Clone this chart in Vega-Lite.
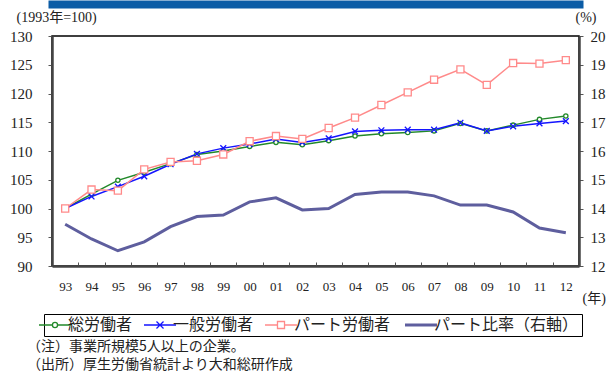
{
  "$schema": "https://vega.github.io/schema/vega-lite/v6.json",
  "autosize": {"type": "none"},
  "padding": {"left": 52, "top": 36, "right": 28, "bottom": 105},
  "width": 527,
  "height": 230,
  "config": {
    "view": {"stroke": "#000", "strokeWidth": 1.5},
    "axis": {"grid": false, "domainColor": "#444", "domainWidth": 2.5, "tickColor": "#555", "tickWidth": 1, "labelColor": "#222", "titleColor": "#222", "titleFontWeight": "normal"}
  },
  "title": {
    "text": ["（注）事業所規模5人以上の企業。", "（出所）厚生労働省統計より大和総研作成"],
    "orient": "bottom",
    "anchor": "start",
    "frame": "group",
    "dx": -25,
    "offset": 3,
    "font": "Noto Sans CJK JP",
    "fontSize": 14,
    "fontWeight": "normal",
    "lineHeight": 18,
    "color": "#222"
  },
  "data": {"values": [
    {"year": "93", "series": "総労働者", "value": 100},
    {"year": "94", "series": "総労働者", "value": 102.5},
    {"year": "95", "series": "総労働者", "value": 104.9},
    {"year": "96", "series": "総労働者", "value": 106.3},
    {"year": "97", "series": "総労働者", "value": 107.8},
    {"year": "98", "series": "総労働者", "value": 109.4},
    {"year": "99", "series": "総労働者", "value": 110.0},
    {"year": "00", "series": "総労働者", "value": 110.8},
    {"year": "01", "series": "総労働者", "value": 111.5},
    {"year": "02", "series": "総労働者", "value": 111.1},
    {"year": "03", "series": "総労働者", "value": 111.8},
    {"year": "04", "series": "総労働者", "value": 112.6},
    {"year": "05", "series": "総労働者", "value": 113.0},
    {"year": "06", "series": "総労働者", "value": 113.2},
    {"year": "07", "series": "総労働者", "value": 113.5},
    {"year": "08", "series": "総労働者", "value": 114.8},
    {"year": "09", "series": "総労働者", "value": 113.5},
    {"year": "10", "series": "総労働者", "value": 114.5},
    {"year": "11", "series": "総労働者", "value": 115.5},
    {"year": "12", "series": "総労働者", "value": 116.1},
    {"year": "93", "series": "一般労働者", "value": 100},
    {"year": "94", "series": "一般労働者", "value": 102.1},
    {"year": "95", "series": "一般労働者", "value": 103.8},
    {"year": "96", "series": "一般労働者", "value": 105.6},
    {"year": "97", "series": "一般労働者", "value": 107.7},
    {"year": "98", "series": "一般労働者", "value": 109.5},
    {"year": "99", "series": "一般労働者", "value": 110.5},
    {"year": "00", "series": "一般労働者", "value": 111.2},
    {"year": "01", "series": "一般労働者", "value": 112.1},
    {"year": "02", "series": "一般労働者", "value": 111.5},
    {"year": "03", "series": "一般労働者", "value": 112.2},
    {"year": "04", "series": "一般労働者", "value": 113.4},
    {"year": "05", "series": "一般労働者", "value": 113.6},
    {"year": "06", "series": "一般労働者", "value": 113.7},
    {"year": "07", "series": "一般労働者", "value": 113.7},
    {"year": "08", "series": "一般労働者", "value": 114.9},
    {"year": "09", "series": "一般労働者", "value": 113.5},
    {"year": "10", "series": "一般労働者", "value": 114.3},
    {"year": "11", "series": "一般労働者", "value": 114.8},
    {"year": "12", "series": "一般労働者", "value": 115.2},
    {"year": "93", "series": "パート労働者", "value": 100},
    {"year": "94", "series": "パート労働者", "value": 103.3},
    {"year": "95", "series": "パート労働者", "value": 103.1},
    {"year": "96", "series": "パート労働者", "value": 106.8},
    {"year": "97", "series": "パート労働者", "value": 108.1},
    {"year": "98", "series": "パート労働者", "value": 108.3},
    {"year": "99", "series": "パート労働者", "value": 109.4},
    {"year": "00", "series": "パート労働者", "value": 111.7},
    {"year": "01", "series": "パート労働者", "value": 112.6},
    {"year": "02", "series": "パート労働者", "value": 112.1},
    {"year": "03", "series": "パート労働者", "value": 114.0},
    {"year": "04", "series": "パート労働者", "value": 115.8},
    {"year": "05", "series": "パート労働者", "value": 118.0},
    {"year": "06", "series": "パート労働者", "value": 120.2},
    {"year": "07", "series": "パート労働者", "value": 122.4},
    {"year": "08", "series": "パート労働者", "value": 124.2},
    {"year": "09", "series": "パート労働者", "value": 121.5},
    {"year": "10", "series": "パート労働者", "value": 125.3},
    {"year": "11", "series": "パート労働者", "value": 125.2},
    {"year": "12", "series": "パート労働者", "value": 125.8},
    {"year": "93", "series": "パート比率（右軸）", "value": 13.45},
    {"year": "94", "series": "パート比率（右軸）", "value": 12.94},
    {"year": "95", "series": "パート比率（右軸）", "value": 12.53},
    {"year": "96", "series": "パート比率（右軸）", "value": 12.84},
    {"year": "97", "series": "パート比率（右軸）", "value": 13.37},
    {"year": "98", "series": "パート比率（右軸）", "value": 13.72},
    {"year": "99", "series": "パート比率（右軸）", "value": 13.77},
    {"year": "00", "series": "パート比率（右軸）", "value": 14.23},
    {"year": "01", "series": "パート比率（右軸）", "value": 14.37},
    {"year": "02", "series": "パート比率（右軸）", "value": 13.95},
    {"year": "03", "series": "パート比率（右軸）", "value": 14.0},
    {"year": "04", "series": "パート比率（右軸）", "value": 14.49},
    {"year": "05", "series": "パート比率（右軸）", "value": 14.57},
    {"year": "06", "series": "パート比率（右軸）", "value": 14.57},
    {"year": "07", "series": "パート比率（右軸）", "value": 14.44},
    {"year": "08", "series": "パート比率（右軸）", "value": 14.12},
    {"year": "09", "series": "パート比率（右軸）", "value": 14.12},
    {"year": "10", "series": "パート比率（右軸）", "value": 13.88},
    {"year": "11", "series": "パート比率（右軸）", "value": 13.32},
    {"year": "12", "series": "パート比率（右軸）", "value": 13.16}
  ]},
  "layer": [
    {
      "transform": [{"filter": "datum.series !== 'パート比率（右軸）'"}],
      "encoding": {
        "x": {
          "field": "year",
          "type": "ordinal",
          "sort": null,
          "scale": {"type": "band", "paddingInner": 0, "paddingOuter": 0},
          "axis": {
            "orient": "bottom",
            "labelAngle": 0,
            "labelFont": "Liberation Serif",
            "labelFontSize": 13,
            "tickBand": "extent",
            "tickSize": -4,
            "labelPadding": 18,
            "title": "(年)",
            "titleFont": "Liberation Serif, Noto Sans CJK JP",
            "titleFontSize": 14,
            "titleAngle": 0,
            "titleAlign": "left",
            "titleBaseline": "middle",
            "titleX": 530,
            "titleY": 32
          }
        },
        "y": {
          "field": "value",
          "type": "quantitative",
          "scale": {"domain": [90, 130], "zero": false, "nice": false},
          "axis": {
            "orient": "left",
            "values": [90, 95, 100, 105, 110, 115, 120, 125, 130],
            "labelFont": "Liberation Serif",
            "labelFontSize": 15,
            "tickSize": 4,
            "labelPadding": 16,
            "title": "(1993年=100)",
            "titleFont": "Liberation Serif, Noto Sans CJK JP",
            "titleFontSize": 14,
            "titleAngle": 0,
            "titleAlign": "left",
            "titleBaseline": "middle",
            "titleX": -36,
            "titleY": -19
          }
        }
      },
      "layer": [
        {
          "mark": {"type": "line", "strokeWidth": 1.5},
          "encoding": {
            "color": {
              "field": "series",
              "type": "nominal",
              "scale": {
                "domain": ["総労働者", "一般労働者", "パート労働者", "パート比率（右軸）"],
                "range": ["#22892a", "#1414ff", "#ff8a8a", "#5e5e9e"]
              },
              "legend": {
                "orient": "none",
                "legendX": -8,
                "legendY": 278,
                "direction": "horizontal",
                "columns": 4,
                "title": null,
                "strokeColor": "#000",
                "padding": 3,
                "symbolSize": 1024,
                "symbolStrokeWidth": 1.3,
                "columnPadding": 8,
                "labelOffset": 5,
                "labelFont": "Noto Sans CJK JP",
                "labelFontSize": 16,
                "labelColor": "#222",
                "encode": {
                  "symbols": {
                    "update": {
                      "shape": {"signal": "datum.value === '総労働者' ? 'M-1,0H-0.16M0.16,0H1M-0.16,0A0.16,0.16 0 1,0 0.16,0A0.16,0.16 0 1,0 -0.16,0' : datum.value === '一般労働者' ? 'M-1,0H1M-0.22,-0.22L0.22,0.22M-0.22,0.22L0.22,-0.22' : datum.value === 'パート労働者' ? 'M-1,0H-0.22M0.22,0H1M-0.22,-0.22H0.22V0.22H-0.22Z' : 'M-1,0H1'"},
                      "fill": {"value": "white"},
                      "strokeWidth": {"signal": "datum.value === 'パート比率（右軸）' ? 3 : 1.3"},
                      "opacity": {"value": 1}
                    }
                  }
                }
              }
            }
          }
        },
        {
          "mark": {"type": "point", "filled": false, "fill": "white", "strokeWidth": 1.3, "opacity": 1},
          "encoding": {
            "color": {"field": "series", "type": "nominal"},
            "shape": {
              "field": "series",
              "type": "nominal",
              "scale": {
                "domain": ["総労働者", "一般労働者", "パート労働者"],
                "range": ["circle", "M-1,-1L1,1M-1,1L1,-1", "square"]
              },
              "legend": null
            },
            "size": {
              "field": "series",
              "type": "nominal",
              "scale": {
                "domain": ["総労働者", "一般労働者", "パート労働者"],
                "range": [18, 50, 72]
              },
              "legend": null
            }
          }
        }
      ]
    },
    {
      "transform": [{"filter": "datum.series === 'パート比率（右軸）'"}],
      "mark": {"type": "line", "strokeWidth": 3},
      "encoding": {
        "x": {
          "field": "year",
          "type": "ordinal",
          "sort": null,
          "axis": {
            "orient": "top",
            "labels": false,
            "ticks": false,
            "title": null,
            "offset": 32,
            "domainColor": "#0b5ca6",
            "domainWidth": 8,
            "domainCap": "square"
          }
        },
        "y": {
          "field": "value",
          "type": "quantitative",
          "scale": {"domain": [12, 20], "zero": false, "nice": false},
          "axis": {
            "orient": "right",
            "values": [12, 13, 14, 15, 16, 17, 18, 19, 20],
            "labelFont": "Liberation Serif",
            "labelFontSize": 15,
            "tickSize": 4,
            "labelPadding": 7,
            "title": "(%)",
            "titleFont": "Liberation Serif",
            "titleFontSize": 14,
            "titleAngle": 0,
            "titleAlign": "left",
            "titleBaseline": "middle",
            "titleX": -4,
            "titleY": -19
          }
        },
        "color": {"field": "series", "type": "nominal"}
      }
    }
  ],
  "resolve": {"scale": {"y": "independent"}, "axis": {"x": "independent"}}
}
